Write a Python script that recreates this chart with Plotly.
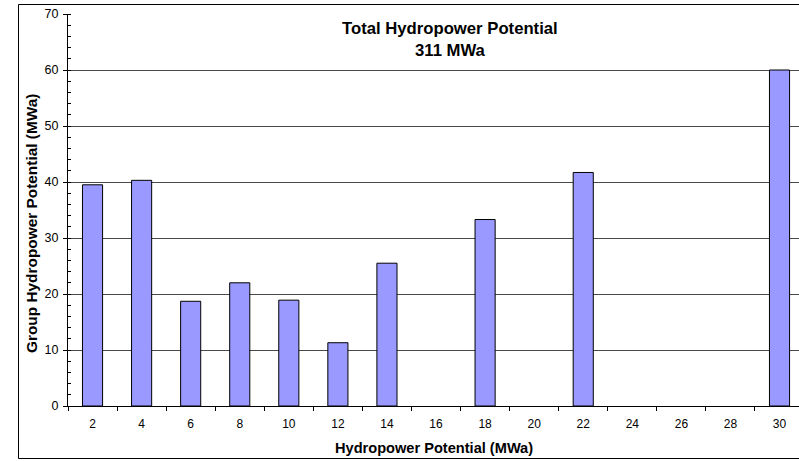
import plotly.graph_objects as go

categories = ["2", "4", "6", "8", "10", "12", "14", "16", "18", "20", "22", "24", "26", "28", "30"]
values = [39.5, 40.3, 18.7, 22.0, 18.9, 11.3, 25.5, 0, 33.3, 0, 41.7, 0, 0, 0, 60.0]
title_lines = ["Total Hydropower Potential", "311 MWa"]
x_title = "Hydropower Potential (MWa)"
y_title = "Group Hydropower Potential (MWa)"

FONT = "Liberation Sans, Arial, sans-serif"

fig = go.Figure()
fig.add_trace(go.Bar(
    x=categories, y=values, width=0.41,
    marker=dict(color="#9999FF",
                line=dict(color="#000000", width=[1 if v > 0 else 0 for v in values])),
    hoverinfo="x+y",
))

L, T, B, W, H = 68, 14, 55, 799, 461
pw = W - L
ph = H - T - B
cat_w = 49.07
x_right = -0.5 + pw / cat_w

def px_x(p):
    return (p - L) / pw

def px_y(p):
    return (H - B - p) / ph

fig.update_layout(
    width=W, height=H,
    margin=dict(l=L, r=0, t=T, b=B),
    paper_bgcolor="white", plot_bgcolor="white",
    font=dict(family=FONT, size=12, color="black"),
    showlegend=False,
    bargap=0.59,
    xaxis=dict(
        type="category", range=[-0.5, x_right],
        showgrid=False, showline=True, linecolor="black", linewidth=1,
        ticks="outside", ticklen=4, tickcolor="black", tickson="boundaries",
        ticklabelstandoff=7,
        tickfont=dict(size=12, family=FONT, color="black"),
        zeroline=False, fixedrange=True,
    ),
    yaxis=dict(
        range=[0, 70], dtick=10, tick0=0,
        showgrid=True, gridcolor="#4a4a4a", gridwidth=1,
        showline=True, linecolor="black", linewidth=1,
        ticks="outside", ticklen=4, tickcolor="black",
        ticklabelstandoff=2,
        minor=dict(dtick=2, ticks="inside", ticklen=3, tickcolor="black", showgrid=False),
        tickfont=dict(size=12.5, family=FONT, color="black"),
        zeroline=False, fixedrange=True,
    ),
    shapes=[dict(
        type="rect", xref="paper", yref="paper",
        x0=px_x(18.5), x1=1.05, y0=px_y(458.5), y1=px_y(4.5),
        line=dict(color="black", width=1), fillcolor="rgba(0,0,0,0)", layer="above",
    )],
    annotations=[
        dict(text="<b>" + title_lines[0] + "</b>", xref="paper", yref="paper",
             x=px_x(450), y=px_y(29), xanchor="center", yanchor="middle",
             showarrow=False, font=dict(size=16.7, family=FONT, color="black")),
        dict(text="<b>" + title_lines[1] + "</b>", xref="paper", yref="paper",
             x=px_x(451), y=px_y(50), xanchor="center", yanchor="middle",
             showarrow=False, font=dict(size=16.7, family=FONT, color="black")),
        dict(text="<b>" + x_title + "</b>", xref="paper", yref="paper",
             x=px_x(434), y=px_y(448), xanchor="center", yanchor="middle",
             showarrow=False, font=dict(size=14.6, family=FONT, color="black")),
        dict(text="<b>" + y_title + "</b>", xref="paper", yref="paper",
             x=px_x(31), y=px_y(224), xanchor="center", yanchor="middle",
             textangle=-90, showarrow=False,
             font=dict(size=15.4, family=FONT, color="black")),
    ],
)

fig.write_html(
    "out.html",
    config={"displayModeBar": False},
    post_script="document.body.style.margin='0';document.body.style.padding='0';document.body.style.overflow='hidden';",
)
